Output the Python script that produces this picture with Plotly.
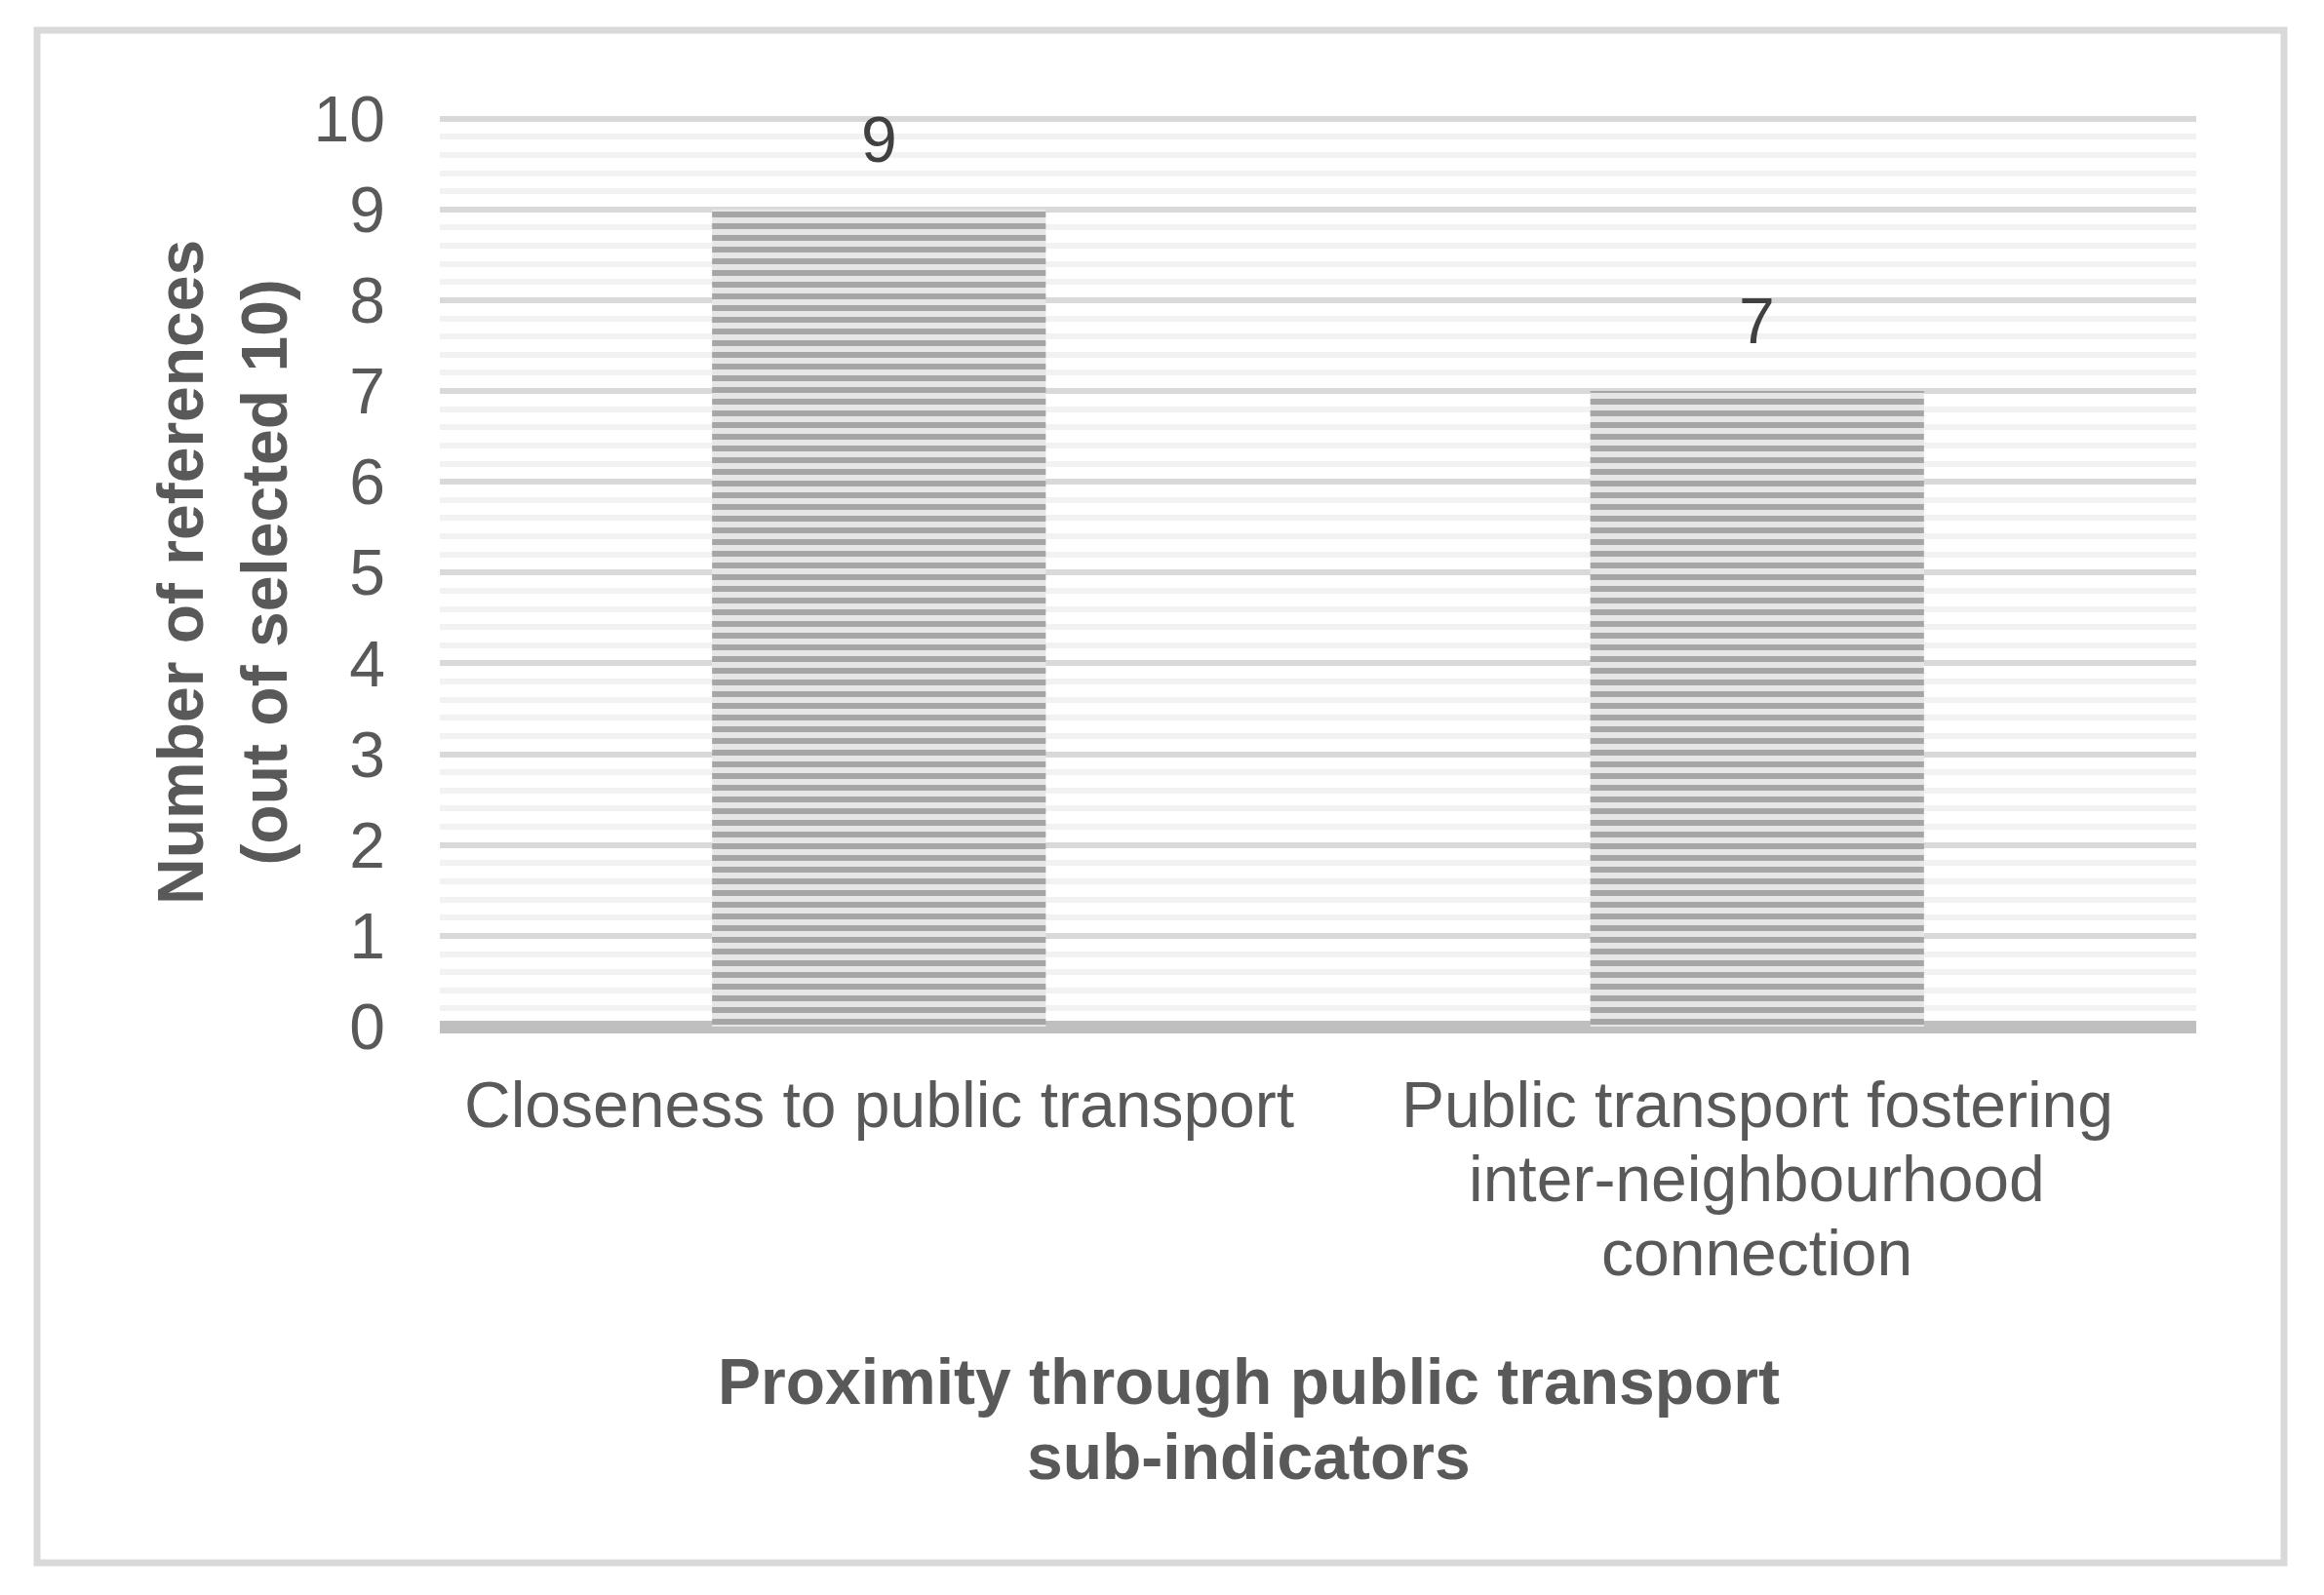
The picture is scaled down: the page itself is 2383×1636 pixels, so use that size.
import plotly.graph_objects as go

# chart data
categories = [
    "Closeness to public transport",
    "Public transport fostering<br>inter-neighbourhood<br>connection",
]
values = [9, 7]
y_ticks = list(range(0, 11))

y_title = "<b>Number of references<br>(out of selected 10)</b>"
x_title_lines = ["Proximity through public transport", "sub-indicators"]

# figure geometry (the page adds an 8px body margin)
OFF = 8
W, H = 2383 - 2 * OFF, 1636 - 2 * OFF
L, R, T, B = 443, 123, 110, 575
PW, PH = W - L - R, H - T - B

FONT = "Arial, 'Liberation Sans', sans-serif"
TXT = "#595959"


def px_x(px):
    # page pixel -> paper fraction
    return (px - OFF - L) / PW


def px_y(py):
    return (H - B - (py - OFF)) / PH


fig = go.Figure()

fig.add_trace(go.Bar(
    x=categories,
    y=values,
    marker=dict(
        color="#e4e4e4",
        line=dict(width=0),
        pattern=dict(shape="-", size=12, solidity=0.5,
                     fgcolor="#a6a6a6", bgcolor="#e6e6e6", fillmode="replace"),
    ),
    showlegend=False,
    hoverinfo="skip",
))

# value labels above bars
for cat, v in zip(categories, values):
    fig.add_annotation(x=cat, y=v, text=str(v), yshift=72, showarrow=False,
                       xanchor="center", yanchor="middle",
                       font=dict(family=FONT, size=66, color="#404040"))

# category labels, one annotation per line (tighter line spacing than plotly's)
for cat in categories:
    for i, line in enumerate(cat.split("<br>")):
        fig.add_annotation(x=cat, y=0, text=line, yshift=-(80 + 76 * i),
                           showarrow=False, xanchor="center", yanchor="middle",
                           font=dict(family=FONT, size=66, color=TXT))

# axis titles
fig.add_annotation(xref="paper", yref="paper", x=px_x(228), y=px_y(587),
                   text=y_title, textangle=-90, showarrow=False,
                   xanchor="center", yanchor="middle",
                   font=dict(family=FONT, size=66, color=TXT))
for i, line in enumerate(x_title_lines):
    fig.add_annotation(xref="paper", yref="paper", x=px_x(1280), y=px_y(1417 + 77 * i),
                       text="<b>" + line + "</b>", showarrow=False,
                       xanchor="center", yanchor="middle",
                       font=dict(family=FONT, size=66, color=TXT))

# outer border
fig.add_shape(type="rect", xref="paper", yref="paper",
              x0=px_x(38), x1=px_x(2342), y0=px_y(1603), y1=px_y(31),
              line=dict(color="#d9d9d9", width=7), layer="below")

fig.update_layout(
    width=W, height=H,
    margin=dict(l=L, r=R, t=T, b=B, pad=0, autoexpand=False),
    paper_bgcolor="white",
    plot_bgcolor="white",
    bargap=0.62,
    font=dict(family=FONT, size=66, color=TXT),
)

fig.update_xaxes(
    automargin=False,
    showgrid=False, showline=False, zeroline=False,
    showticklabels=False,
)

fig.update_yaxes(
    automargin=False,
    range=[0, 10.04],
    tickvals=y_ticks,
    showgrid=True, gridcolor="#d9d9d9", gridwidth=6,
    minor=dict(dtick=0.2, showgrid=True, gridcolor="#f2f2f2", gridwidth=6),
    zeroline=True, zerolinecolor="#bfbfbf", zerolinewidth=13,
    showline=False,
    tickfont=dict(family=FONT, size=66, color=TXT),
    ticklabelstandoff=55,
)

fig.write_html("out.html")
